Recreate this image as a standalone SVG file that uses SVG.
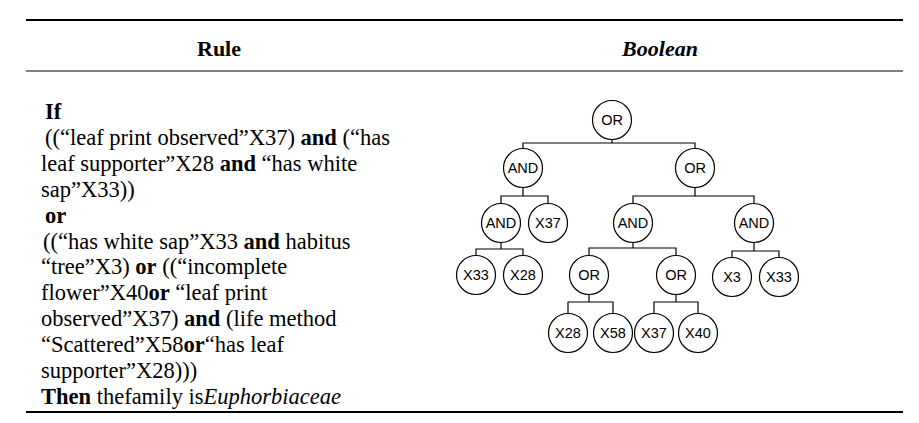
<svg xmlns="http://www.w3.org/2000/svg" width="919" height="423" viewBox="0 0 919 423">
<style>
.rule{stroke:#000;fill:none}
.hd{font-family:"Liberation Serif","Times New Roman",serif;font-size:22px;font-weight:bold;text-anchor:middle}
.tx{font-family:"Liberation Serif","Times New Roman",serif;font-size:22.5px;fill:#000}
.b{font-weight:bold}
.i{font-style:italic}
.node circle{fill:#fff;stroke:#000;stroke-width:1.2}
.node text{font-family:"Liberation Sans",Arial,sans-serif;font-size:14.5px;text-anchor:middle;fill:#000}
#connectors path{stroke:#000;stroke-width:1.2;fill:none}
</style>
<rect width="919" height="423" fill="#fff"/>
<g id="table">
<line class="rule" x1="26" y1="20" x2="903" y2="20" stroke-width="2.2"/>
<line class="rule" x1="26" y1="71" x2="903" y2="71" stroke-width="1.2"/>
<line class="rule" x1="26" y1="412" x2="903" y2="412" stroke-width="2.2"/>
<text class="hd" x="219" y="56">Rule</text>
<text class="hd i" x="660" y="56">Boolean</text>
</g>
<g id="rule-text" class="tx">
<text x="45" y="119" class="b">If</text>
<text x="45" y="145">((“leaf print observed”X37) <tspan class="b">and</tspan> (“has</text>
<text x="41" y="171">leaf supporter”X28 <tspan class="b">and</tspan> “has white</text>
<text x="41" y="197">sap”X33))</text>
<text x="45" y="223" class="b">or</text>
<text x="43" y="249">((“has white sap”X33 <tspan class="b">and</tspan> habitus</text>
<text x="41" y="274">“tree”X3) <tspan class="b">or</tspan> ((“incomplete</text>
<text x="41" y="300">flower”X40<tspan class="b">or</tspan> “leaf print</text>
<text x="41" y="326">observed”X37) <tspan class="b">and</tspan> (life method</text>
<text x="41" y="352">“Scattered”X58<tspan class="b">or</tspan>“has leaf</text>
<text x="41" y="378">supporter”X28)))</text>
<text x="41" y="404"><tspan class="b">Then</tspan> thefamily is<tspan class="i">Euphorbiaceae</tspan></text>
</g>
<g id="connectors">
<path d="M612 139.5V143M523 148.5V143H695V148.5"/>
<path d="M523 187.5V196M501 203.5V196H548V203.5"/>
<path d="M695 187.5V196M633 203.5V196H754V203.5"/>
<path d="M501 242.5V249M476 255.5V249H523V255.5"/>
<path d="M633 242.5V248M589 255.5V248H676V255.5"/>
<path d="M754 242.5V251M732 257.5V251H779V257.5"/>
<path d="M589 294.5V302M568 313.5V302H613V313.5"/>
<path d="M676 294.5V302M654 313.5V302H698V313.5"/>
</g>
<g id="n-root" class="node"><circle cx="612" cy="120" r="19.5"/><text x="612" y="125">OR</text></g>
<g id="n-and-l" class="node"><circle cx="523" cy="168" r="19.5"/><text x="523" y="173">AND</text></g>
<g id="n-or-r" class="node"><circle cx="695" cy="168" r="19.5"/><text x="695" y="173">OR</text></g>
<g id="n-and-ll" class="node"><circle cx="501" cy="223" r="19.5"/><text x="501" y="228">AND</text></g>
<g id="n-x37-a" class="node"><circle cx="548" cy="223" r="19.5"/><text x="548" y="228">X37</text></g>
<g id="n-and-m" class="node"><circle cx="633" cy="223" r="19.5"/><text x="633" y="228">AND</text></g>
<g id="n-and-r" class="node"><circle cx="754" cy="223" r="19.5"/><text x="754" y="228">AND</text></g>
<g id="n-x33-a" class="node"><circle cx="476" cy="275" r="19.5"/><text x="476" y="280">X33</text></g>
<g id="n-x28-a" class="node"><circle cx="523" cy="275" r="19.5"/><text x="523" y="280">X28</text></g>
<g id="n-or-ml" class="node"><circle cx="589" cy="275" r="19.5"/><text x="589" y="280">OR</text></g>
<g id="n-or-mr" class="node"><circle cx="676" cy="275" r="19.5"/><text x="676" y="280">OR</text></g>
<g id="n-x3" class="node"><circle cx="732" cy="277" r="19.5"/><text x="732" y="282">X3</text></g>
<g id="n-x33-b" class="node"><circle cx="779" cy="277" r="19.5"/><text x="779" y="282">X33</text></g>
<g id="n-x28-b" class="node"><circle cx="568" cy="333" r="19.5"/><text x="568" y="338">X28</text></g>
<g id="n-x58" class="node"><circle cx="613" cy="333" r="19.5"/><text x="613" y="338">X58</text></g>
<g id="n-x37-b" class="node"><circle cx="654" cy="333" r="19.5"/><text x="654" y="338">X37</text></g>
<g id="n-x40" class="node"><circle cx="698" cy="333" r="19.5"/><text x="698" y="338">X40</text></g>
</svg>
